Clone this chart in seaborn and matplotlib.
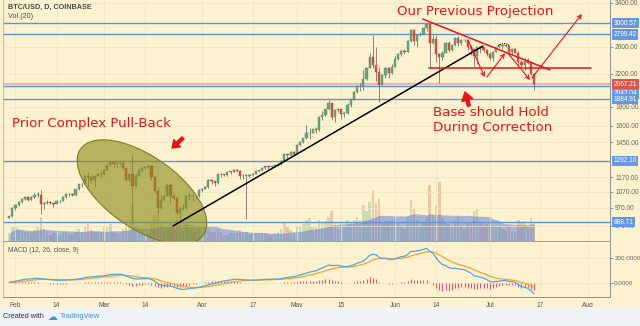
import numpy as np
import pandas as pd
import matplotlib
matplotlib.use("Agg")
import matplotlib.pyplot as plt
import seaborn as sns
from matplotlib.patches import Polygon, Rectangle
from matplotlib.transforms import Affine2D
from matplotlib.ticker import NullLocator

# ---------------- data (daily BTC/USD Coinbase, Jan 30 - Jul 15 2017) ----------------
first_day = -2          # Jan 30, counted from Feb 1 = 0
first_open = 914
close = [921, 968,
         987, 1005, 1025, 1038, 1018, 1035, 1050, 1050, 993, 998, 1008, 998, 995, 1010,
         1012, 1035, 1054, 1056, 1050, 1085, 1120, 1125, 1175, 1170, 1150, 1178, 1195, 1190,
         1225, 1260, 1285, 1265, 1272, 1278, 1235, 1150, 1192, 1110, 1180, 1226, 1240, 1245,
         1255, 1170, 1075, 970, 1020, 1045, 1115, 1040, 1030, 940, 965, 970, 1045, 1045, 1040, 1040, 1080,
         1090, 1100, 1150, 1140, 1130, 1195, 1190, 1185, 1210, 1210, 1225, 1215, 1175, 1180,
         1180, 1185, 1195, 1215, 1220, 1240, 1250, 1245, 1255, 1255, 1265, 1290, 1345, 1340, 1365, 1350,
         1425, 1450, 1485, 1530, 1535, 1570, 1565, 1690, 1710, 1770, 1840, 1690, 1760, 1770,
         1720, 1735, 1815, 1885, 1965, 2040, 2045, 2130, 2280, 2440, 2320, 2230, 2060, 2190, 2280, 2210, 2300,
         2410, 2490, 2525, 2520, 2690, 2880, 2690, 2795, 2815, 2905, 2985, 2650, 2720, 2480,
         2440, 2505, 2655, 2550, 2620, 2740, 2660, 2700, 2710, 2590, 2560, 2450, 2595, 2585, 2545, 2480,
         2430, 2520, 2590, 2610, 2620, 2610, 2510, 2565, 2505, 2360, 2320, 2400, 2355, 2200, 2067.21]
high = [923, 972,
        990, 1010, 1030, 1045, 1040, 1040, 1060, 1070, 1081, 1005, 1015, 1010, 1005, 1015,
        1015, 1040, 1060, 1065, 1060, 1090, 1125, 1130, 1180, 1210, 1175, 1180, 1200, 1210,
        1230, 1265, 1290, 1290, 1275, 1280, 1283, 1240, 1200, 1340, 1200, 1230, 1250, 1255,
        1260, 1260, 1175, 1100, 1050, 1055, 1120, 1120, 1055, 1035, 980, 995, 1045, 1065, 1055, 1050, 1085,
        1095, 1110, 1160, 1160, 1145, 1200, 1200, 1195, 1215, 1215, 1230, 1228, 1220, 1190,
        1190, 1190, 1200, 1220, 1225, 1245, 1255, 1255, 1260, 1260, 1270, 1300, 1350, 1350, 1370, 1370,
        1430, 1460, 1490, 1610, 1580, 1580, 1590, 1700, 1750, 1780, 1870, 1845, 1770, 1790,
        1775, 1745, 1840, 1890, 1985, 2055, 2080, 2250, 2285, 2500, 2790, 2600, 2290, 2200, 2300, 2300, 2330,
        2450, 2500, 2560, 2560, 2700, 2900, 2885, 2800, 2840, 2915, 3000, 2995, 2795, 2790,
        2500, 2530, 2680, 2685, 2630, 2760, 2775, 2720, 2730, 2715, 2630, 2580, 2600, 2615, 2600, 2560,
        2520, 2530, 2600, 2640, 2630, 2630, 2615, 2580, 2575, 2525, 2400, 2420, 2420, 2360, 2210]
low = [910, 918,
       960, 980, 1000, 1015, 1010, 1015, 1030, 1035, 934, 965, 990, 992, 975, 990,
       1002, 1010, 1032, 1045, 1040, 1045, 1080, 1105, 1120, 1100, 1130, 1110, 1175, 1170,
       1185, 1220, 1255, 1245, 1240, 1260, 1225, 1140, 1145, 900, 1100, 1175, 1210, 1230,
       1240, 1150, 1060, 940, 965, 1010, 1040, 1000, 1020, 930, 895, 960, 965, 1015, 1010, 1025, 1035,
       1070, 1085, 1095, 1120, 1110, 1125, 1170, 1175, 1180, 1195, 1205, 1205, 1160, 1160,
       905, 1170, 1175, 1190, 1205, 1215, 1230, 1220, 1235, 1245, 1250, 1262, 1288, 1300, 1330, 1335,
       1345, 1415, 1440, 1480, 1480, 1530, 1530, 1555, 1660, 1700, 1760, 1660, 1640, 1740,
       1670, 1690, 1720, 1800, 1880, 1960, 1980, 1990, 2120, 2275, 2280, 2100, 1850, 2050, 2150, 2150, 2200,
       2300, 2400, 2450, 2485, 2515, 2680, 2630, 2600, 2780, 2810, 2860, 2300, 2640, 2370,
       2075, 2390, 2500, 2520, 2530, 2610, 2610, 2620, 2680, 2550, 2470, 2310, 2330, 2500, 2520, 2460,
       2400, 2380, 2510, 2580, 2560, 2590, 2500, 2480, 2500, 2300, 2280, 2250, 2330, 2180, 1990]
volume_k = [5, 9,
            9, 8, 7, 6, 6, 5, 7, 9, 16, 8, 5, 4, 5, 5, 4, 6, 6, 4, 4, 6, 8, 6, 10, 12, 7, 6, 6, 6,
            9, 9, 11, 6, 5, 5, 8, 10, 9, 24, 10, 6, 5, 5, 5, 12, 18, 20, 12, 9, 10, 12, 8, 16, 12, 7, 11, 8, 6, 6, 8,
            6, 6, 8, 6, 6, 8, 6, 4, 4, 5, 5, 5, 7, 5, 6, 4, 5, 5, 5, 5, 5, 4, 4, 5, 6, 8, 12, 9, 7, 6,
            10, 10, 11, 14, 15, 9, 9, 14, 12, 13, 16, 20, 12, 8, 12, 9, 14, 12, 14, 16, 14, 24, 20, 26, 33, 25, 28, 12, 12, 13, 14,
            15, 12, 10, 8, 16, 27, 22, 14, 10, 12, 16, 37, 18, 24, 39, 15, 12, 11, 10, 14, 16, 10, 7, 12, 12, 20, 21, 12, 10, 11,
            10, 10, 9, 9, 8, 7, 10, 6, 6, 14, 12, 13, 10, 15, 12]
# closes before the visible window (Dec 1 2016 - Jan 29 2017), only to warm up the MACD EMAs
warmup_close = [750, 765, 770, 765, 760, 765, 770, 770, 770, 775, 765, 770, 780, 775,
                778, 785, 790, 790, 792, 800, 830, 860, 918, 890, 890, 900, 930, 975, 972, 960, 965,
                1000, 1020, 1035, 1135, 990, 890, 900, 910, 900, 905, 780, 810, 825, 820, 825, 830,
                905, 870, 900, 895, 925, 920, 925, 890, 895, 915, 920, 920, 914]

price_levels = [3000.57, 2799.42, 2043.04, 1884.91, 1292.10, 888.71]
last_price = 2067.21
price_ticks = [870, 970, 1070, 1170, 1450, 1600, 1800, 2200, 2600, 3400]
date_tick_days = [0, 13, 28, 41, 59, 75, 89, 103, 120, 133, 150, 166, 181]
date_tick_labels = ["Feb", "14", "Mar", "14", "Apr", "17", "May", "15", "Jun", "14", "Jul", "17", "Aug"]

# ---------------- styling ----------------
BG = "#fdf2d0"
GRID = "#f0e4bf"
UP, DOWN = "#6ba583", "#d75442"
WICK = "#737375"
BLUE = "#5f93de"
RED = "#e3141c"
W, H = 640, 326

sns.set_theme(style="white")
plt.rcParams["font.family"] = ["DejaVu Sans"]

close = np.array(close, float)
high = np.array(high, float)
low = np.array(low, float)
vol = np.array(volume_k, float)
n = len(close)
x = np.arange(n) + first_day
open_ = np.concatenate([[first_open], close[:-1]])

fig = plt.figure(figsize=(W / 100, H / 100), dpi=100, facecolor=BG)
px = Affine2D().scale(1, -1).translate(0, H)   # pixel coords with y from top

ax = fig.add_axes([3 / W, 1 - 241 / H, 607 / W, 241 / H])
axv = ax.twinx()
ax.set_zorder(axv.get_zorder() + 1)
ax.patch.set_visible(False)
axv.patch.set_facecolor(BG)

xlim = (-3.95, 188)
for a in (ax, axv):
    a.set_xlim(*xlim)

# volume + MA(20)
vol_ma = pd.Series(vol).rolling(20, min_periods=1).mean().values
up = close >= open_
axv.bar(x, vol, width=0.8, color=np.where(up, "#cddcb0", "#ecc6a5"), linewidth=0)
axv.fill_between(x, 0, vol_ma, color="#5a78d6", alpha=0.5, lw=0)
axv.set_ylim(0, 160)
axv.set_yticks([])
axv.tick_params(length=0)
for s in axv.spines.values():
    s.set_visible(False)

# price pane
ax.set_yscale("log")
ax.set_ylim(792, 3455)
ax.yaxis.tick_right()
ax.set_yticks(price_ticks)
ax.set_yticklabels([f"{t:.2f}" for t in price_ticks])
ax.yaxis.set_minor_locator(NullLocator())
ax.tick_params(axis="y", length=2.5, width=0.6, color="#888", pad=1.2, labelsize=4.7,
               labelcolor="#666", labelright=True, labelleft=False)
ax.set_xticks(date_tick_days)
ax.tick_params(axis="x", length=0, labelbottom=False)
ax.grid(True, color=GRID, lw=0.5)
ax.set_axisbelow(True)
for lab in ax.get_yticklabels():
    lab.set_fontfamily("Liberation Sans")

for lvl in price_levels:
    ax.axhline(lvl, color=BLUE, lw=1.0, zorder=2)
ax.axhline(last_price, color="#e9b9ac", lw=1.6, zorder=1.9)

body_low = np.minimum(open_, close)
body_h = np.maximum(np.abs(close - open_), close * 0.004)
ax.vlines(x, low, high, color=WICK, lw=0.6, zorder=3)
ax.bar(x, body_h, bottom=body_low, width=0.7, color=np.where(up, UP, DOWN),
       edgecolor=np.where(up, "#4e8a66", "#b5402f"), linewidth=0.3, zorder=3.1)

ax.spines["top"].set_visible(False)
ax.spines["left"].set_color("#b9b19a")
ax.spines["left"].set_linewidth(0.6)
ax.spines["right"].set_color("#8e8e8e")
ax.spines["right"].set_linewidth(0.7)
ax.spines["bottom"].set_color("#9e9e9e")
ax.spines["bottom"].set_linewidth(0.7)

# olive ellipse drawn as a polygon in pixel coords (y from top), tilted down to the right
t = np.linspace(0, 2 * np.pi, 200)
th = np.deg2rad(35)
ea, eb, ecx, ecy = 75, 36, 142, 192
ex = ecx + ea * np.cos(t) * np.cos(th) - eb * np.sin(t) * np.sin(th)
ey = ecy + ea * np.cos(t) * np.sin(th) + eb * np.sin(t) * np.cos(th)
ell = Polygon(np.column_stack([ex, ey]), closed=True,
              facecolor=(0.55, 0.55, 0.1, 0.62), edgecolor="#7e7e22", lw=0.8, zorder=4)
ax.add_patch(ell)
ell.set_transform(px)
ell.set_clip_box(ax.bbox)

# trend lines (days, price)
ax.plot([49.8, 147.8], [868, 2607], color="black", lw=1.1, zorder=5)
ax.plot([128.8, 169.0], [3075, 2252], color=RED, lw=1.1, zorder=5)
ax.plot([130.7, 181.9], [2279, 2279], color=RED, lw=1.1, zorder=5)
zig = [((143.1, 2704), (148.4, 2158)), ((149.1, 2158), (154.8, 2497)),
       ((155.7, 2497), (162.7, 2119)), ((163.3, 2145), (179.1, 3171))]
for (p0, p1) in zig:
    ax.annotate("", xy=p1, xytext=p0, xycoords="data",
                arrowprops=dict(arrowstyle="->", color=RED, lw=0.8, mutation_scale=7,
                                shrinkA=0, shrinkB=0), zorder=5)
ax.plot([498, 501, 504, 507, 510], [46, 44, 43.5, 44, 46], transform=px, color="black",
        lw=0.8, ls=(0, (1, 1)), zorder=5)

# thick red arrows
ax.annotate("", xy=(172, 148), xytext=(183, 138), xycoords=px, textcoords=px,
            arrowprops=dict(facecolor=RED, edgecolor=RED, width=2.2, headwidth=7, headlength=5),
            annotation_clip=False, zorder=6)
ax.annotate("", xy=(465, 92), xytext=(469, 106), xycoords=px, textcoords=px,
            arrowprops=dict(facecolor=RED, edgecolor=RED, width=2.2, headwidth=8, headlength=6),
            annotation_clip=False, zorder=6)

# red texts
tk = dict(color=RED, fontsize=9.6, va="center", ha="left", family="DejaVu Sans")
fig.text(397 / W, 1 - 12 / H, "Our Previous Projection", **tk)
fig.text(12 / W, 1 - 123 / H, "Prior Complex Pull-Back", **tk)
fig.text(433 / W, 1 - 112 / H, "Base should Hold", **tk)
fig.text(433 / W, 1 - 128 / H, "During Correction", **tk)

# header texts
fig.text(8 / W, 1 - 7 / H, "BTC/USD, D, COINBASE", fontsize=5.2, weight="bold", color="#4b4b4b",
         va="center", family="Liberation Sans")
fig.text(8 / W, 1 - 17 / H, "Vol (20)", fontsize=5.2, color="#4b4b4b", va="center",
         family="Liberation Sans")

# right-axis price boxes
ytr = ax.get_yaxis_transform()
offsets = {2043.04: -5.5}
for lvl in price_levels:
    ax.annotate(f"{lvl:.2f}", xy=(1.0, lvl), xycoords=ytr, xytext=(2.5, offsets.get(lvl, 0)),
                textcoords="offset points", fontsize=4.7, color="white", va="center", ha="left",
                family="Liberation Sans", annotation_clip=False, zorder=10,
                bbox=dict(boxstyle="square,pad=0.25", fc="#6498e2", ec="none"))
ax.annotate(f"{last_price:.2f}", xy=(1.0, last_price), xycoords=ytr, xytext=(2.5, 0),
            textcoords="offset points", fontsize=4.7, color="white", va="center", ha="left",
            family="Liberation Sans", annotation_clip=False, zorder=11,
            bbox=dict(boxstyle="square,pad=0.25", fc="#d9574a", ec="none"))

# ---------------- MACD pane ----------------
ax2 = fig.add_axes([3 / W, 1 - 297 / H, 607 / W, 56 / H])
ax2.patch.set_facecolor(BG)
allc = pd.Series(np.concatenate([np.array(warmup_close, float), close]))
ema12 = allc.ewm(span=12, adjust=False).mean()
ema26 = allc.ewm(span=26, adjust=False).mean()
macd_all = ema12 - ema26
sig_all = macd_all.ewm(span=9, adjust=False).mean()
k = len(warmup_close)
macd = macd_all.values[k:]
signal = sig_all.values[k:]
hist = macd - signal

ax2.vlines(x, 0, hist, color="#e0557c", lw=0.8)
sns.lineplot(x=x, y=signal, ax=ax2, color="#f0a23c", lw=0.9)
sns.lineplot(x=x, y=macd, ax=ax2, color="#55a7da", lw=0.9)
ax2.set_xlim(*xlim)
ax2.set_ylim(-104, 327)
ax2.yaxis.tick_right()
ax2.set_yticks([0, 200])
ax2.set_yticklabels(["0.0000", "200.0000"])
ax2.set_xticks(date_tick_days)
ax2.set_xticklabels(date_tick_labels)
ax2.tick_params(axis="y", length=2.0, width=0.6, color="#888", pad=1.0, labelsize=4.5,
                labelcolor="#666", labelright=True, labelleft=False)
ax2.tick_params(axis="x", length=2, width=0.6, color="#888", pad=1.5, labelsize=4.8,
                labelcolor="#555")
for lab in ax2.get_xticklabels() + ax2.get_yticklabels():
    lab.set_fontfamily("Liberation Sans")
ax2.grid(True, color=GRID, lw=0.5)
ax2.set_axisbelow(True)
ax2.spines["top"].set_visible(False)
ax2.spines["left"].set_color("#b9b19a")
ax2.spines["left"].set_linewidth(0.6)
for side in ("right", "bottom"):
    ax2.spines[side].set_color("#8e8e8e")
    ax2.spines[side].set_linewidth(0.7)
ax2.set_xlabel("")
ax2.set_ylabel("")
fig.text(8 / W, 1 - 250 / H, "MACD (12, 26, close, 9)", fontsize=4.8, color="#555",
         va="center", family="Liberation Sans")

# footer
fig.patches.append(Rectangle((0, 0), 1, 19 / H, transform=fig.transFigure,
                             facecolor="#eff2f6", edgecolor="none", zorder=0))
fig.text(3 / W, 1 - 317 / H, "Created with", fontsize=5.3, color="#333", va="center",
         family="Liberation Sans")
fig.text(47 / W, 1 - 317 / H, "\u2601", fontsize=7, color="#3d94d6", va="center",
         family="DejaVu Sans")
fig.text(60 / W, 1 - 317 / H, "TradingView", fontsize=5.3, color="#3d94d6", va="center",
         family="Liberation Sans")

fig.savefig("out.png", dpi=100, facecolor=BG)
